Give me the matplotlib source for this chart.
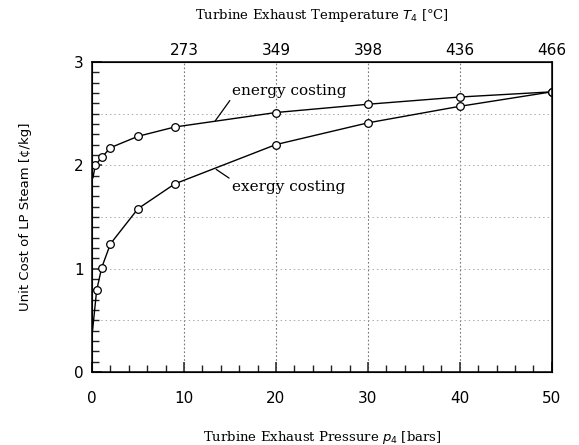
import numpy as np
import matplotlib
matplotlib.use("Agg")
import matplotlib.pyplot as plt

# energy costing curve (first point only continues the line, no marker)
p_energy = [0.1, 0.35, 1.1, 2.0, 5.0, 9.0, 20.0, 30.0, 40.0, 50.0]
c_energy = [1.88, 2.0, 2.08, 2.17, 2.28, 2.37, 2.51, 2.59, 2.66, 2.71]

# exergy costing curve
p_exergy = [0.05, 0.5, 1.05, 2.0, 5.0, 9.0, 20.0, 30.0, 40.0, 50.0]
c_exergy = [0.40, 0.79, 1.01, 1.24, 1.58, 1.82, 2.20, 2.41, 2.57, 2.71]

# top axis: temperature at given pressures
p_top = [10, 20, 30, 40, 50]
t_top = ["273", "349", "398", "436", "466"]

fig = plt.figure(figsize=(5.79, 4.45), dpi=100)
ax = fig.add_axes([0.159, 0.164, 0.794, 0.697])

ax.plot(p_energy, c_energy, color="black", lw=1.0, marker="o", ms=5.5,
        mfc="white", mec="black", mew=0.9, markevery=list(range(1, len(p_energy))))
ax.plot(p_exergy, c_exergy, color="black", lw=1.0, marker="o", ms=5.5,
        mfc="white", mec="black", mew=0.9, markevery=list(range(1, len(p_exergy))))

ax.set_xlim(0, 50)
ax.set_ylim(0, 3)
ax.set_xticks([0, 10, 20, 30, 40, 50])
ax.set_yticks([0, 1, 2, 3])
ax.set_xticks(np.arange(0, 51, 2), minor=True)
ax.set_yticks(np.arange(0, 3.01, 0.1), minor=True)
ax.tick_params(which="both", direction="in", top=False, right=False, labelsize=11,
               color="#222222")
ax.tick_params(which="major", length=7, width=1.1)
ax.tick_params(which="minor", length=5, width=1.0)
ax.tick_params(axis="x", which="major", pad=14)
ax.tick_params(axis="y", which="major", pad=6)

# dotted grid
for x in [10, 20, 30, 40]:
    ax.axvline(x, color="#777777", ls=(0, (1.5, 2)), lw=0.8, zorder=0)
for y in [0.5, 1.0, 1.5, 2.0, 2.5]:
    ax.axhline(y, color="#aaaaaa", ls=(0, (1.5, 3)), lw=0.7, zorder=0)

for s in ax.spines.values():
    s.set_linewidth(1.1)

ax.set_xlabel("Turbine Exhaust Pressure $p_4$ [bars]", family="DejaVu Serif",
              fontsize=9.5, labelpad=16)
ax.set_ylabel("Unit Cost of LP Steam [¢/kg]", fontsize=9.5, labelpad=30)

top = ax.twiny()
top.set_xlim(ax.get_xlim())
top.set_xticks(p_top)
top.set_xticklabels(t_top)
top.tick_params(length=0, labelsize=11, pad=3)
top.set_xlabel("Turbine Exhaust Temperature $T_4$ [°C]", family="DejaVu Serif",
               fontsize=9.5, labelpad=17)

ax.annotate("energy costing", xy=(13.4, 2.43), xytext=(15.2, 2.72),
            fontsize=11, family="DejaVu Serif", va="center", ha="left",
            arrowprops=dict(arrowstyle="-", color="black", lw=0.9,
                            shrinkA=0, shrinkB=0, relpos=(0, 0)))
ax.annotate("exergy costing", xy=(13.5, 1.96), xytext=(15.2, 1.79),
            fontsize=11, family="DejaVu Serif", va="center", ha="left",
            arrowprops=dict(arrowstyle="-", color="black", lw=0.9,
                            shrinkA=0, shrinkB=0, relpos=(0, 1)))

fig.savefig("out.png", dpi=100)
